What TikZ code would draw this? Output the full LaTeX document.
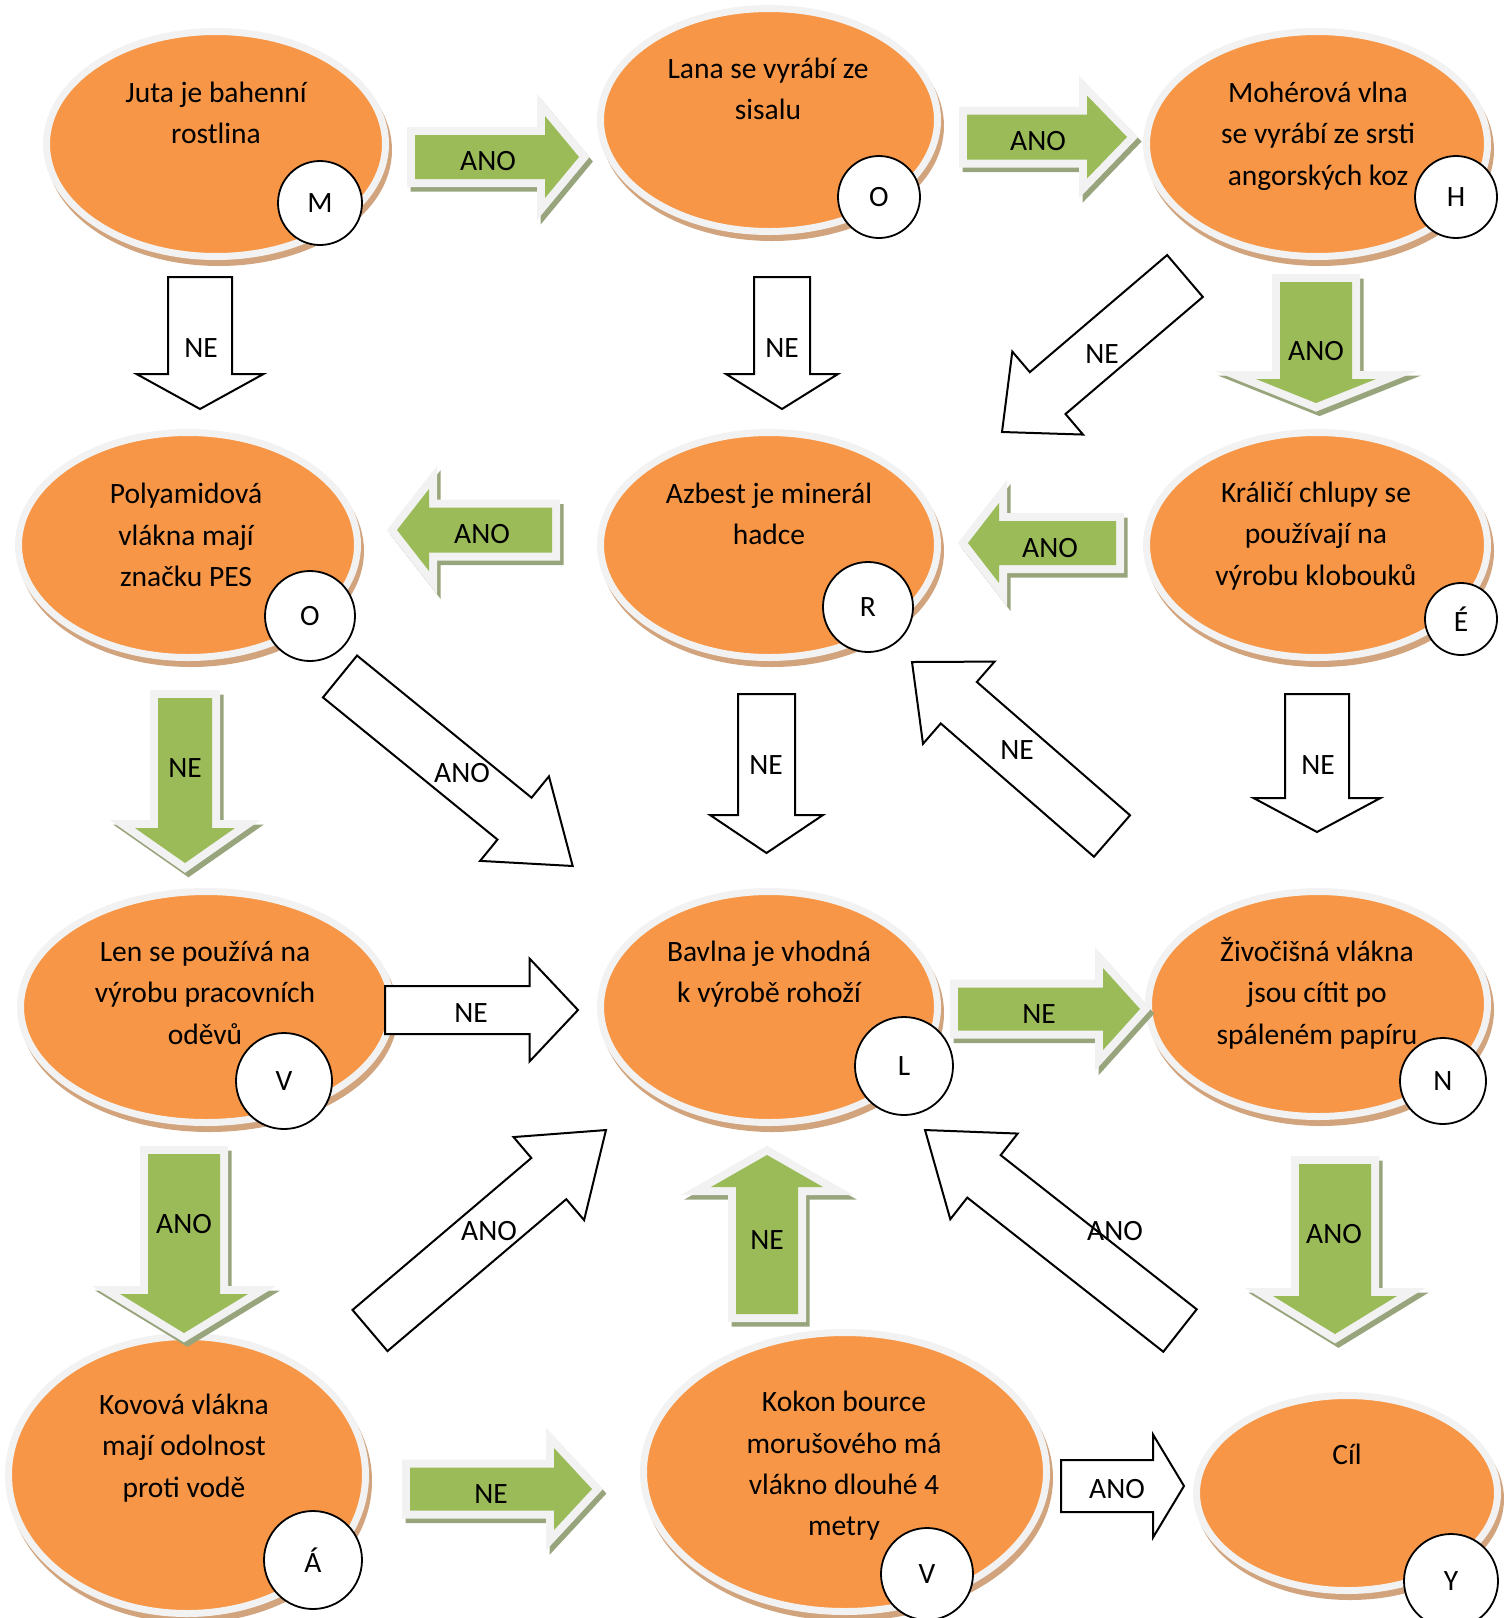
\documentclass[tikz,border=0pt]{standalone}
\usepackage{fontspec}
\setmainfont{Carlito}
\usetikzlibrary{calc,shapes.geometric}
\definecolor{orng}{HTML}{F79646}
\definecolor{grn}{HTML}{9BBB59}
\definecolor{ring}{HTML}{F2F2F2}
\definecolor{gshadow}{HTML}{98A47C}
\definecolor{bshadow}{HTML}{D2A47E}
\tikzset{
  txt/.style={font=\fontsize{29.5}{41.3}\selectfont, align=center, inner sep=0pt},
  lbl/.style={font=\fontsize{29.5}{34}\selectfont, inner sep=0pt},
  ovalbox/.style={ellipse, fill=orng, draw=ring, line width=7pt, inner sep=0pt},
  ovalshadow/.style={fill=bshadow},
  letter/.style={circle, draw=black, line width=1.8pt, fill=white, inner sep=0pt,
                 font=\fontsize{29.5}{34}\selectfont},
  gshadowsty/.style={fill=gshadow, draw=gshadow, line width=16pt, line join=miter, miter limit=12},
  gringsty/.style={fill=ring, draw=ring, line width=16pt, line join=miter, miter limit=12},
  gfillsty/.style={fill=grn},
  warrow/.style={fill=white, draw=black, line width=2pt, line join=miter, miter limit=12}
}
% #1 style, #2 x0, #3 y0 (tail centre), #4 x1, #5 y1 (tip), #6 half body, #7 half head, #8 head length
\newcommand{\blockpoly}[8]{%
  \pgfmathsetmacro\bkx{#2}%
  \pgfmathsetmacro\bky{#3}%
  \pgfmathsetmacro\bkang{atan2(-((#5)-(#3)),(#4)-(#2))}%
  \pgfmathsetmacro\bklen{veclen((#4)-(#2),(#5)-(#3))}%
  \pgfmathsetmacro\bkbase{\bklen-(#8)}%
  \begin{scope}[shift={(\bkx,\bky)},rotate=\bkang]
    \path[#1] (0,-#6) -- (\bkbase,-#6) -- (\bkbase,-#7) -- (\bklen,0)
      -- (\bkbase,#7) -- (\bkbase,#6) -- (0,#6) -- cycle;
  \end{scope}}
\newcommand{\greenarrow}[7]{%
  \blockpoly{gshadowsty}{#1+3.5}{#2+4.5}{#3+3.5}{#4+4.5}{#5}{#6}{#7}%
  \blockpoly{gringsty}{#1}{#2}{#3}{#4}{#5}{#6}{#7}%
  \blockpoly{gfillsty}{#1}{#2}{#3}{#4}{#5}{#6}{#7}}
\newcommand{\whitearrow}[7]{%
  \blockpoly{warrow}{#1}{#2}{#3}{#4}{#5}{#6}{#7}}
% name, cx, cy, rx, ry (orange radii)
\newcommand{\myoval}[5]{%
  \fill[ovalshadow] ({#2+3},{#3+6}) ellipse [x radius={#4+7}, y radius={#5+7}];
  \node[ovalbox, minimum width={2*#4+7}, minimum height={2*#5+7}] (#1) at (#2,#3) {};}
\begin{document}
\begin{tikzpicture}[x=1pt,y=-1pt]
\useasboundingbox (0,0) rectangle (1507,1618);

% ---------- ellipses ----------
\myoval{jut}{216}{144}{166}{109}
\myoval{lan}{769}{120}{165}{108}
\myoval{moh}{1317}{144}{167}{109}
\myoval{pol}{188}{545}{166}{109}
\myoval{azb}{769}{545}{165}{109}
\myoval{kra}{1317}{545}{167}{109}
\myoval{len}{206}{1007}{182}{112}
\myoval{bav}{769}{1007}{165}{112}
\myoval{ziv}{1318}{1004}{166}{109}
\myoval{kov}{187}{1475}{175}{135}
\myoval{kok}{845}{1472}{198}{136}
\myoval{cil}{1347}{1493}{147}{94}

\node[txt] (jutt) at (216,113) {Juta je bahenní\\rostlina};
\node[txt] (lant) at (768,89) {Lana se vyrábí ze\\sisalu};
\node[txt] (moht) at (1318,136) {Mohérová vlna\\se vyrábí ze srsti\\angorských koz};
\node[txt] (polt) at (186,535) {Polyamidová\\vlákna mají\\značku PES};
\node[txt] (azbt) at (769,514) {Azbest je minerál\\hadce};
\node[txt] (krat) at (1316,536) {Králičí chlupy se\\používají na\\výrobu klobouků};
\node[txt] (lent) at (205,993) {Len se používá na\\výrobu pracovních\\oděvů};
\node[txt] (bavt) at (769,974) {Bavlna je vhodná\\k výrobě rohoží};
\node[txt] (zivt) at (1317,993) {Živočišná vlákna\\jsou cítit po\\spáleném papíru};
\node[txt] (kovt) at (184,1448) {Kovová vlákna\\mají odolnost\\proti vodě};
\node[txt] (kokt) at (844,1466) {Kokon bource\\morušového má\\vlákno dlouhé 4\\metry};
\node[txt] (cilt) at (1347,1454) {Cíl};

% ---------- letter circles ----------
\node[letter, minimum size=84] (cm) at (320,203) {M};
\node[letter, minimum size=82] (co1) at (879,197) {O};
\node[letter, minimum size=82] (ch) at (1456,197) {H};
\node[letter, minimum size=90] (co2) at (310,616) {O};
\node[letter, minimum size=90] (cr) at (868,607) {R};
\node[letter, minimum size=72] (ce) at (1461,619) {É};
\node[letter, minimum size=96] (cv1) at (284,1081) {V};
\node[letter, minimum size=98] (cl) at (904,1066) {L};
\node[letter, minimum size=86] (cn) at (1443,1081) {N};
\node[letter, minimum size=98] (ca) at (313,1560) {Á};
\node[letter, minimum size=92] (cv2) at (927,1574) {V};
\node[letter, minimum size=94] (cy) at (1451,1581) {Y};

% ---------- green arrows ----------
\greenarrow{415}{157}{579}{157}{22}{41}{34}
\node[lbl] (a1) at (488,161) {ANO};
\greenarrow{967}{137}{1127}{137}{22.5}{41.5}{40}
\node[lbl] (a2) at (1038,141) {ANO};
\greenarrow{1316}{282}{1316}{403}{36}{60}{24}
\node[lbl] (a3) at (1316,351) {ANO};
\greenarrow{552}{530}{397}{530}{22.5}{41}{32}
\node[lbl] (a4) at (482,534) {ANO};
\greenarrow{1116}{543}{968}{543}{22}{40}{31}
\node[lbl] (a5) at (1050,548) {ANO};
\greenarrow{185}{698}{185}{863}{27}{50}{35}
\node[lbl] (a6) at (185,768) {NE};
\greenarrow{958}{1009}{1140}{1009}{21.5}{41}{37}
\node[lbl] (a7) at (1039,1014) {NE};
\greenarrow{184}{1154}{184}{1333}{36}{64}{39}
\node[lbl] (a8) at (184,1224) {ANO};
\greenarrow{767}{1314}{767}{1155}{31}{56}{32}
\node[lbl] (a9) at (767,1240) {NE};
\greenarrow{1335}{1164}{1335}{1334}{36}{62}{38}
\node[lbl] (a10) at (1334,1234) {ANO};
\greenarrow{410}{1489}{592}{1489}{21.5}{41}{38}
\node[lbl] (a11) at (491,1494) {NE};

% ---------- white arrows ----------
\whitearrow{200}{277}{200}{409}{32}{63.5}{35}
\node[lbl] (w1) at (201,348) {NE};
\whitearrow{782}{277}{782}{409}{28}{56}{35}
\node[lbl] (w2) at (782,348) {NE};
\whitearrow{1185}{276}{1002}{432}{27.5}{54.5}{60}
\node[lbl] (w3) at (1102,354) {NE};
\whitearrow{340}{676.5}{572.7}{866}{27}{54.5}{75}
\node[lbl] (w4) at (462,773) {ANO};
\whitearrow{766.5}{694}{766.5}{853}{28.5}{56.5}{38}
\node[lbl] (w5) at (766,765) {NE};
\whitearrow{1112}{836}{912}{662}{27.5}{54.5}{62}
\node[lbl] (w6) at (1017,750) {NE};
\whitearrow{1317}{694}{1317}{832}{32}{63.5}{34}
\node[lbl] (w7) at (1318,765) {NE};
\whitearrow{385}{1010}{578}{1010}{24}{51.5}{48.5}
\node[lbl] (w8) at (471,1013) {NE};
\whitearrow{370}{1330.5}{606}{1130}{27}{54.5}{75}
\node[lbl] (w9) at (489,1231) {ANO};
\whitearrow{1180}{1330.5}{925}{1130}{27}{54.5}{75}
\node[lbl] (w10) at (1115,1231) {ANO};
\whitearrow{1061}{1486}{1184}{1486}{26}{51.5}{31}
\node[lbl] (w11) at (1117,1489) {ANO};
\end{tikzpicture}
\end{document}
